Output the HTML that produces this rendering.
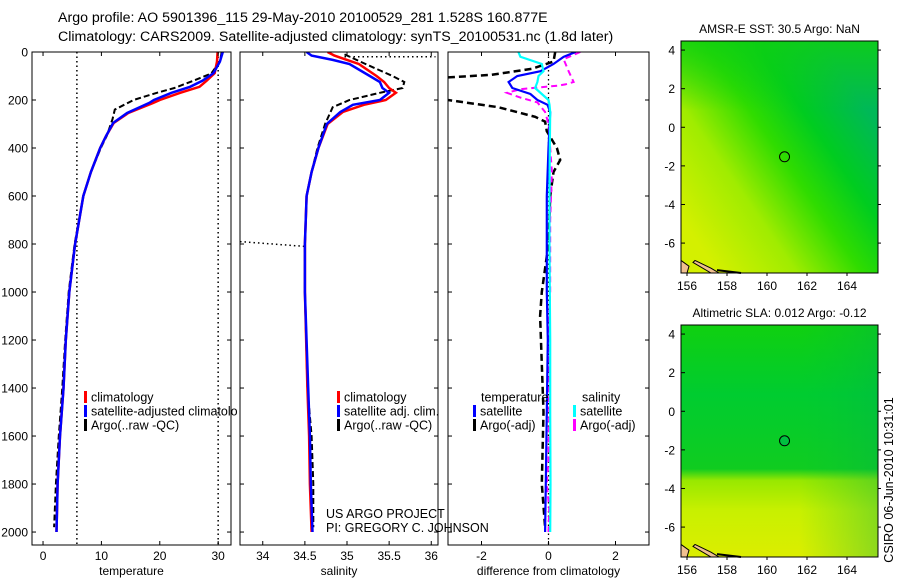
<!DOCTYPE html>
<html><head><meta charset="utf-8">
<style>
html,body{margin:0;padding:0;background:#fff;}
svg{display:block;font-family:"Liberation Sans",sans-serif;}
</style></head>
<body>
<svg id="fig" width="900" height="580" viewBox="0 0 900 580" xmlns="http://www.w3.org/2000/svg">
<defs>
<clipPath id="c1"><rect x="32" y="52" width="199" height="493"/></clipPath>
<clipPath id="c1b"><rect x="32" y="52" width="206" height="493"/></clipPath>
<clipPath id="c2"><rect x="240" y="52" width="198" height="493"/></clipPath>
<clipPath id="c3"><rect x="448" y="52" width="201" height="493"/></clipPath>
<linearGradient id="gTop" x1="0.95" y1="0.3" x2="0.15" y2="0.95">
<stop offset="0" stop-color="#00b858"/><stop offset="0.25" stop-color="#00cc20"/><stop offset="0.45" stop-color="#30dc00"/><stop offset="0.7" stop-color="#a0ec00"/><stop offset="1" stop-color="#d4f000"/></linearGradient>
<linearGradient id="gTop2" x1="0" y1="0" x2="0" y2="1">
<stop offset="0" stop-color="#10d010" stop-opacity="0.8"/><stop offset="0.3" stop-color="#10d010" stop-opacity="0"/><stop offset="1" stop-color="#10d010" stop-opacity="0"/></linearGradient>
<linearGradient id="gBot" x1="0" y1="0" x2="0" y2="1">
<stop offset="0" stop-color="#10d010"/><stop offset="0.3" stop-color="#00cc30"/><stop offset="0.62" stop-color="#10cc20"/><stop offset="0.67" stop-color="#98e800"/><stop offset="0.8" stop-color="#c8f000"/><stop offset="1" stop-color="#dcee00"/></linearGradient>
<linearGradient id="gBotH" x1="0" y1="0" x2="1" y2="0">
<stop offset="0" stop-color="#00c040" stop-opacity="0"/><stop offset="0.6" stop-color="#00c040" stop-opacity="0"/><stop offset="1" stop-color="#00b050" stop-opacity="0.35"/></linearGradient>
</defs>
<g id="titles">
<text x="58" y="22" font-size="14.2">Argo profile: AO 5901396_115 29-May-2010 20100529_281 1.528S 160.877E</text>
<text x="58" y="41" font-size="14.2">Climatology: CARS2009. Satellite-adjusted climatology: synTS_20100531.nc (1.8d later)</text>
</g>
<g id="layer"></g>
<text transform="translate(893,480) rotate(-90)" font-size="12.5" text-anchor="middle">CSIRO 06-Jun-2010 10:31:01</text>
</svg>
<script>
// ---------- data ----------
const depthTicks = [0,200,400,600,800,1000,1200,1400,1600,1800,2000];
const tempTicks = [0,10,20,30];
const salTicks = [34,34.5,35,35.5,36];
const salTickLabels = ["34","34.5","35","35.5","36"];
const diffTicks = [-2,0,2];
const latTicks = [4,2,0,-2,-4,-6];
const lonTicks = [156,158,160,162,164];

const tDepth = [0,40,88,120,145,170,200,212,254,296,350,400,500,600,800,1000,1200,1400,1600,1800,2000];
const tClim = [29.9,29.8,29.4,28.0,26.8,23.5,20.0,18.9,14.6,12.1,10.8,9.8,8.2,6.9,5.5,4.5,3.9,3.5,2.9,2.5,2.3];
const tSat = [30.8,30.3,29.2,27.3,25.2,22.0,19.0,18.2,14.4,12.0,10.8,9.8,8.2,6.9,5.5,4.5,3.9,3.5,2.9,2.5,2.3];
const aDepth = [0,40,90,120,150,170,200,240,280,350,400,500,600,800,1000,1200,1400,1600,1800,1980];
const tArgo = [30.6,30.3,28.8,25.7,22.5,19.5,15.5,12.3,11.9,10.9,9.9,8.2,6.9,5.4,4.4,3.8,3.3,2.7,2.2,1.9];

const sDepth = [0,15,33,50,100,125,150,170,200,220,250,300,400,500,600,800,1000,1400,1600,1800,2000];
const sClim = [34.77,34.85,35.00,35.14,35.35,35.44,35.50,35.58,35.46,35.20,34.95,34.77,34.66,34.58,34.52,34.50,34.50,34.53,34.55,34.56,34.58];
const sSat = [34.52,34.58,34.83,35.03,35.27,35.39,35.42,35.50,35.39,35.07,34.92,34.76,34.66,34.58,34.52,34.50,34.50,34.54,34.56,34.57,34.59];
const sArgoDepth = [10,50,100,125,150,170,200,230,300,400,500,600,800,1000,1400,1600,1800,1980];
const sArgo = [34.97,35.22,35.54,35.68,35.66,35.39,35.03,34.83,34.74,34.65,34.58,34.52,34.50,34.50,34.53,34.58,34.60,34.60];
const sFlagTopDepth = [20,20];
const sFlagTopSal = [34.97,36.05];
const sFlagMidDepth = [790,810];
const sFlagMidSal = [33.73,34.5];

const dDepth = [0,20,50,80,100,125,150,175,200,220,250,400,600,800,1000,1200,1500,1800,2000];
const dTempSat = [0.81,0.45,0.15,-0.24,-0.93,-1.19,-1.08,-0.54,-0.33,-0.03,0.05,0.0,-0.05,-0.05,-0.05,-0.02,-0.05,-0.08,-0.1];
const dSalSat = [-0.9,-0.84,-0.2,-0.15,-0.3,-0.33,-0.4,-0.2,0.0,0.03,0.05,0.04,0.03,0.03,0.04,0.05,0.05,0.06,0.05];
const dArgoDepth = [0,40,70,95,110,180,200,230,270,290,330,400,450,500,600,800,1000,1100,1500,1800,1980];
const dTempArgo = [0.2,0.15,-0.5,-1.7,-3.5,-3.5,-3.0,-1.5,-0.4,-0.1,-0.05,0.25,0.35,0.15,0.05,0.0,-0.2,-0.25,-0.15,-0.2,-0.1];
const dSalArgo = [0.95,0.45,0.6,0.75,0.5,0.3,-0.84,-1.24,-0.84,-0.33,-0.1,0.0,0.1,0.05,0.05,0.0,0.02,0.0,-0.05,0.02,0.0];
const dSalArgoDepth = [0,30,80,125,135,140,155,170,190,210,250,300,500,700,1000,1200,1500,1700,1800,1900,2000];

const argoLon = 160.877, argoLat = -1.528;
const sstValue = "30.5", slaValue = "0.012", slaArgo = "-0.12";

// ---------- layout ----------
const NS="http://www.w3.org/2000/svg";
const layer=document.getElementById('layer');
function mk(tag,attrs,parent){const e=document.createElementNS(NS,tag);for(const k in attrs)e.setAttribute(k,attrs[k]);(parent||layer).appendChild(e);return e;}
const Y0=52, Y1=545, DMAX=2054;
const yD = d => Y0 + d/DMAX*(Y1-Y0);
function lin(d0,d1,p0,p1){return v=>p0+(v-d0)/(d1-d0)*(p1-p0);}
const P = [
 {x0:32,x1:231,vmin:-1.89,vmax:32.2,clip:'c1'},
 {x0:240,x1:438,vmin:33.73,vmax:36.08,clip:'c2'},
 {x0:448,x1:649,vmin:-3,vmax:3,clip:'c3'}];
P.forEach(p=>p.sx=lin(p.vmin,p.vmax,p.x0,p.x1));

function pathD(xs,ds,sx){return xs.map((v,i)=>(i?'L':'M')+sx(v).toFixed(1)+','+yD(ds[i]).toFixed(1)).join(' ');}
function line(g,xs,ds,sx,color,dash,w,name){
  const e=mk('path',{d:pathD(xs,ds,sx),fill:'none',stroke:color,'stroke-width':w||2},g);
  if(dash)e.setAttribute('stroke-dasharray',dash);
  
  
  return e;
}
function frame(p,idx){
  const g=mk('g',{});
  
  
  mk('rect',{x:p.x0,y:Y0,width:p.x1-p.x0,height:Y1-Y0,fill:'#fff'},g);
  return g;
}
function axes(p,idx,ticks,labels,xlabel,showY){
  const g=mk('g',{});
  
  
  mk('rect',{x:p.x0,y:Y0,width:p.x1-p.x0,height:Y1-Y0,fill:'none',stroke:'#000','stroke-width':1},g);
  depthTicks.forEach(d=>{
    const y=yD(d);
    mk('line',{x1:p.x0,x2:p.x0+4,y1:y,y2:y,stroke:'#000'},g);
    mk('line',{x1:p.x1-4,x2:p.x1,y1:y,y2:y,stroke:'#000'},g);
    if(showY){const t=mk('text',{x:p.x0-4,y:y+4.5,'font-size':12,'text-anchor':'end'},g);t.textContent=d;
      }
  });
  ticks.forEach((v,i)=>{
    const x=p.sx(v);
    mk('line',{x1:x,x2:x,y1:Y1-4,y2:Y1,stroke:'#000'},g);
    mk('line',{x1:x,x2:x,y1:Y0,y2:Y0+4,stroke:'#000'},g);
    const t=mk('text',{x:x,y:Y1+15,'font-size':12,'text-anchor':'middle'},g);t.textContent=labels[i];
    
  });
  const t=mk('text',{x:(p.x0+p.x1)/2,y:Y1+30,'font-size':12,'text-anchor':'middle'},g);t.textContent=xlabel;
  
}
function legend(g,x,y,color,text,name){
  mk('rect',{x:x,y:y-6,width:3,height:12,fill:color},g);
  const t=mk('text',{x:x+7,y:y+4.5,'font-size':12.5},g);t.textContent=text;
  
}

// Panel 1: temperature
let p=P[0];
let g=frame(p,0);
let gc=mk('g',{'clip-path':'url(#c1)'},g);
[5.8,30].forEach(v=>{mk('line',{x1:p.sx(v),x2:p.sx(v),y1:Y0,y2:Y1,stroke:'#000','stroke-width':1.5,'stroke-dasharray':'1.5,3'},gc);});
line(gc,tArgo,aDepth,p.sx,'#000','6,3',2,'temp-argo-line');
line(gc,tClim,tDepth,p.sx,'#f00',null,2.5,'temp-climatology-line');
line(gc,tSat,tDepth,p.sx,'#00f',null,2.5,'temp-satellite-line');
let gl=mk('g',{'clip-path':'url(#c1b)'},g);
legend(gl,84,397,'#f00','climatology','legend-climatology');
legend(gl,84,411,'#00f','satellite-adjusted climatology','legend-satellite-adjusted');
legend(gl,84,425,'#000','Argo(..raw -QC)','legend-argo');
axes(p,0,tempTicks,tempTicks.map(String),'temperature',true);

// Panel 2: salinity
p=P[1];
g=frame(p,1);
gc=mk('g',{'clip-path':'url(#c2)'},g);
line(gc,sFlagTopSal,sFlagTopDepth,p.sx,'#000','1.5,3',1.5,'salinity-flag-top');
line(gc,sFlagMidSal,sFlagMidDepth,p.sx,'#000','1.5,3',1.5,'salinity-flag-mid');
line(gc,sArgo,sArgoDepth,p.sx,'#000','6,3',2,'sal-argo-line');
line(gc,sClim,sDepth,p.sx,'#f00',null,2.5,'sal-climatology-line');
line(gc,sSat,sDepth,p.sx,'#00f',null,2.5,'sal-satellite-line');
legend(g,337,397,'#f00','climatology','legend-sal-climatology');
legend(g,337,411,'#00f','satellite adj. clim.','legend-sal-satellite');
legend(g,337,425,'#000','Argo(..raw -QC)','legend-sal-argo');
axes(p,1,salTicks,salTickLabels,'salinity',false);

// Panel 3: differences
p=P[2];
g=frame(p,2);
gc=mk('g',{'clip-path':'url(#c3)'},g);
mk('line',{x1:p.sx(0),x2:p.sx(0),y1:Y0,y2:Y1,stroke:'#000','stroke-width':1.3,'stroke-dasharray':'1.5,3'},gc);
line(gc,dTempArgo,dArgoDepth,p.sx,'#000','7,4',2.5,'diff-temp-argo-line');
line(gc,dSalArgo,dSalArgoDepth,p.sx,'#f0f','6,4',2,'diff-sal-argo-line');
line(gc,dTempSat,dDepth,p.sx,'#00f',null,2.2,'diff-temp-satellite-line');
line(gc,dSalSat,dDepth,p.sx,'#0ff',null,2.2,'diff-sal-satellite-line');
let tt=mk('text',{x:481,y:401.5,'font-size':12.5},g);tt.textContent='temperature';

tt=mk('text',{x:582,y:401.5,'font-size':12.5},g);tt.textContent='salinity';

legend(g,473,411,'#00f','satellite','legend-diff-temp-satellite');
legend(g,473,425,'#000','Argo(-adj)','legend-diff-temp-argo');
legend(g,573,411,'#0ff','satellite','legend-diff-sal-satellite');
legend(g,573,425,'#f0f','Argo(-adj)','legend-diff-sal-argo');
axes(p,2,diffTicks,diffTicks.map(String),'difference from climatology',false);

// credits
tt=mk('text',{x:326,y:518,'font-size':12.5});tt.textContent='US ARGO PROJECT';

tt=mk('text',{x:326,y:532,'font-size':12.5});tt.textContent='PI: GREGORY C. JOHNSON';


// ---------- maps ----------
function map(top,title,fillA,fillB,name,circleFill){
  const MX0=681,MX1=878,MY0=top,MY1=top+232;
  const lonS=lin(155.7,165.55,MX0,MX1);
  const latS=lin(4.47,-7.55,MY0,MY1);
  const gm=mk('g',{});
  
  
  mk('rect',{x:MX0,y:MY0,width:MX1-MX0,height:MY1-MY0,fill:fillA},gm);
  mk('rect',{x:MX0,y:MY0,width:MX1-MX0,height:MY1-MY0,fill:fillB},gm);
  mk('path',{d:`M${MX0},${latS(-6.9)} L${lonS(156.1)},${latS(-7.2)} L${lonS(156.0)},${latS(-7.55)} L${MX0},${MY1} Z`,fill:'#f0c090',stroke:'#000','stroke-width':1},gm);
  mk('path',{d:`M${lonS(156.4)},${latS(-6.9)} L${lonS(157.2)},${latS(-7.3)} L${lonS(157.6)},${latS(-7.55)} L${lonS(157.2)},${latS(-7.55)} L${lonS(156.3)},${latS(-7.0)} Z`,fill:'#f0c090',stroke:'#000','stroke-width':1},gm);
  mk('path',{d:`M${lonS(157.5)},${latS(-7.4)} L${lonS(158.7)},${latS(-7.55)}`,stroke:'#000','stroke-width':2},gm);
  const c=mk('circle',{cx:lonS(argoLon),cy:latS(argoLat),r:5,fill:circleFill,stroke:'#000','stroke-width':1},gm);
  
  mk('rect',{x:MX0,y:MY0,width:MX1-MX0,height:MY1-MY0,fill:'none',stroke:'#000'},gm);
  latTicks.forEach(v=>{const y=latS(v);
    mk('line',{x1:MX0,x2:MX0+4,y1:y,y2:y,stroke:'#000'},gm);
    mk('line',{x1:MX1,x2:MX1+3,y1:y,y2:y,stroke:'#000'},gm);
    const t=mk('text',{x:MX0-6,y:y+4.5,'font-size':12,'text-anchor':'end'},gm);t.textContent=v;
    });
  lonTicks.forEach(v=>{const x=lonS(v);
    mk('line',{x1:x,x2:x,y1:MY1,y2:MY1+3,stroke:'#000'},gm);
    const t=mk('text',{x:x,y:MY1+17,'font-size':12,'text-anchor':'middle'},gm);t.textContent=v;
    });
  const t=mk('text',{x:(MX0+MX1)/2,y:MY0-8,'font-size':12,'text-anchor':'middle'},gm);t.textContent=title;
  
}
map(41,'AMSR-E SST: '+sstValue+' Argo: NaN','url(#gTop)','url(#gTop2)','sst-map','none');
map(325,'Altimetric SLA: '+slaValue+' Argo: '+slaArgo,'url(#gBot)','url(#gBotH)','sla-map','#00c040');
</script>
</body></html>
